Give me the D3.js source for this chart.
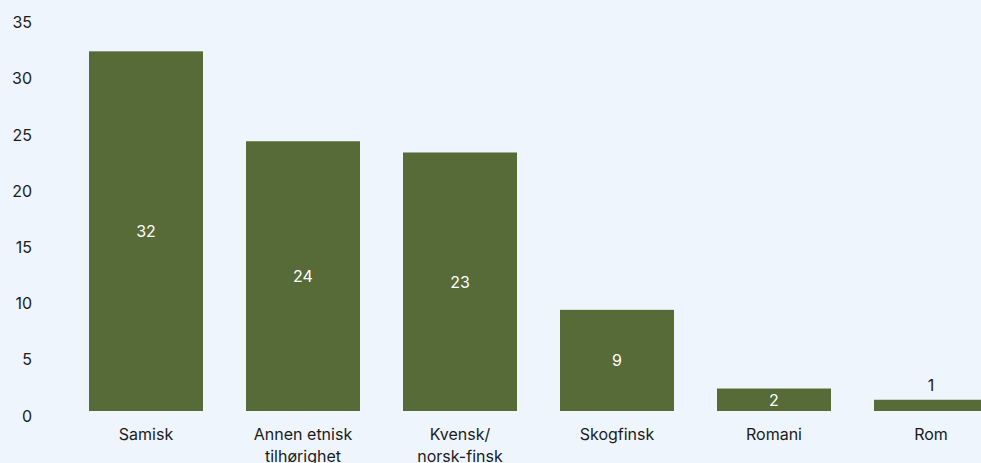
<!DOCTYPE html>
<html>
<head>
<meta charset="utf-8">
<script src="https://cdn.jsdelivr.net/npm/d3@7"></script>
<style>
  body { margin: 0; background: #eef5fd; }
  svg { display: block; font-family: Inter, "Noto Sans", sans-serif; }
</style>
</head>
<body>
<svg id="chart" width="981" height="463"></svg>
<script>
var categories = ["Samisk", "Annen etnisk\ntilhørighet", "Kvensk/\nnorsk-finsk", "Skogfinsk", "Romani", "Rom"];
var values = [32, 24, 23, 9, 2, 1];
var yTicks = [0, 5, 10, 15, 20, 25, 30, 35];

var data = categories.map((c, i) => ({name: c, value: values[i]}));

var svg = d3.select('#chart');
var W = 981, H = 463;
var barColor = "#566b37";
var textColor = "#1b1b1b";

svg.append('rect')
    .attr('width', W).attr('height', H)
    .attr('fill', '#eef5fd');

var x = d3.scaleBand()
    .domain(categories)
    .range([67.5, 1009.5])
    .paddingInner(0.274)
    .paddingOuter(0.137);

var y = d3.scaleLinear()
    .domain([0, 35])
    .range([411, 17.6]);

// y axis labels only, no lines
var yAxis = svg.append('g')
    .attr('transform', 'translate(32,0)')
    .call(d3.axisLeft(y).tickValues(yTicks).tickSize(0).tickPadding(0));
yAxis.select('.domain').remove();
yAxis.selectAll('text')
    .attr('dy', '0.32em')
    .attr('transform', 'translate(0,5)')
    .attr('font-size', 16)
    .attr('font-family', 'Inter, "Noto Sans", sans-serif')
    .attr('fill', textColor);

svg.selectAll('rect.bar')
    .data(data)
    .enter()
    .append('rect')
    .attr('class', 'bar')
    .attr('x', d => x(d.name))
    .attr('y', d => y(d.value))
    .attr('width', x.bandwidth())
    .attr('height', d => y(0) - y(d.value))
    .attr('fill', barColor);

// value labels: inside the bar when there is room, else above it
svg.selectAll('text.val')
    .data(data)
    .enter()
    .append('text')
    .attr('class', 'val')
    .attr('x', d => x(d.name) + x.bandwidth() / 2)
    .attr('y', d => {
        var h = y(0) - y(d.value);
        return h > 20 ? (y(d.value) + y(0)) / 2 : y(d.value) - 9;
    })
    .attr('dy', d => (y(0) - y(d.value)) > 20 ? '0.36em' : 0)
    .attr('text-anchor', 'middle')
    .attr('font-size', 16)
    .attr('fill', d => (y(0) - y(d.value)) > 20 ? '#ffffff' : textColor)
    .text(d => d.value);

// category labels, wrapped
var cat = svg.selectAll('text.cat')
    .data(data)
    .enter()
    .append('text')
    .attr('class', 'cat')
    .attr('text-anchor', 'middle')
    .attr('font-size', 16)
    .attr('fill', textColor);

cat.selectAll('tspan')
    .data(d => d.name.split('\n').map(l => ({line: l, cx: x(d.name) + x.bandwidth() / 2})))
    .enter()
    .append('tspan')
    .attr('x', d => d.cx)
    .attr('y', (d, i) => 440 + i * 22)
    .text(d => d.line);
</script>
</body>
</html>
